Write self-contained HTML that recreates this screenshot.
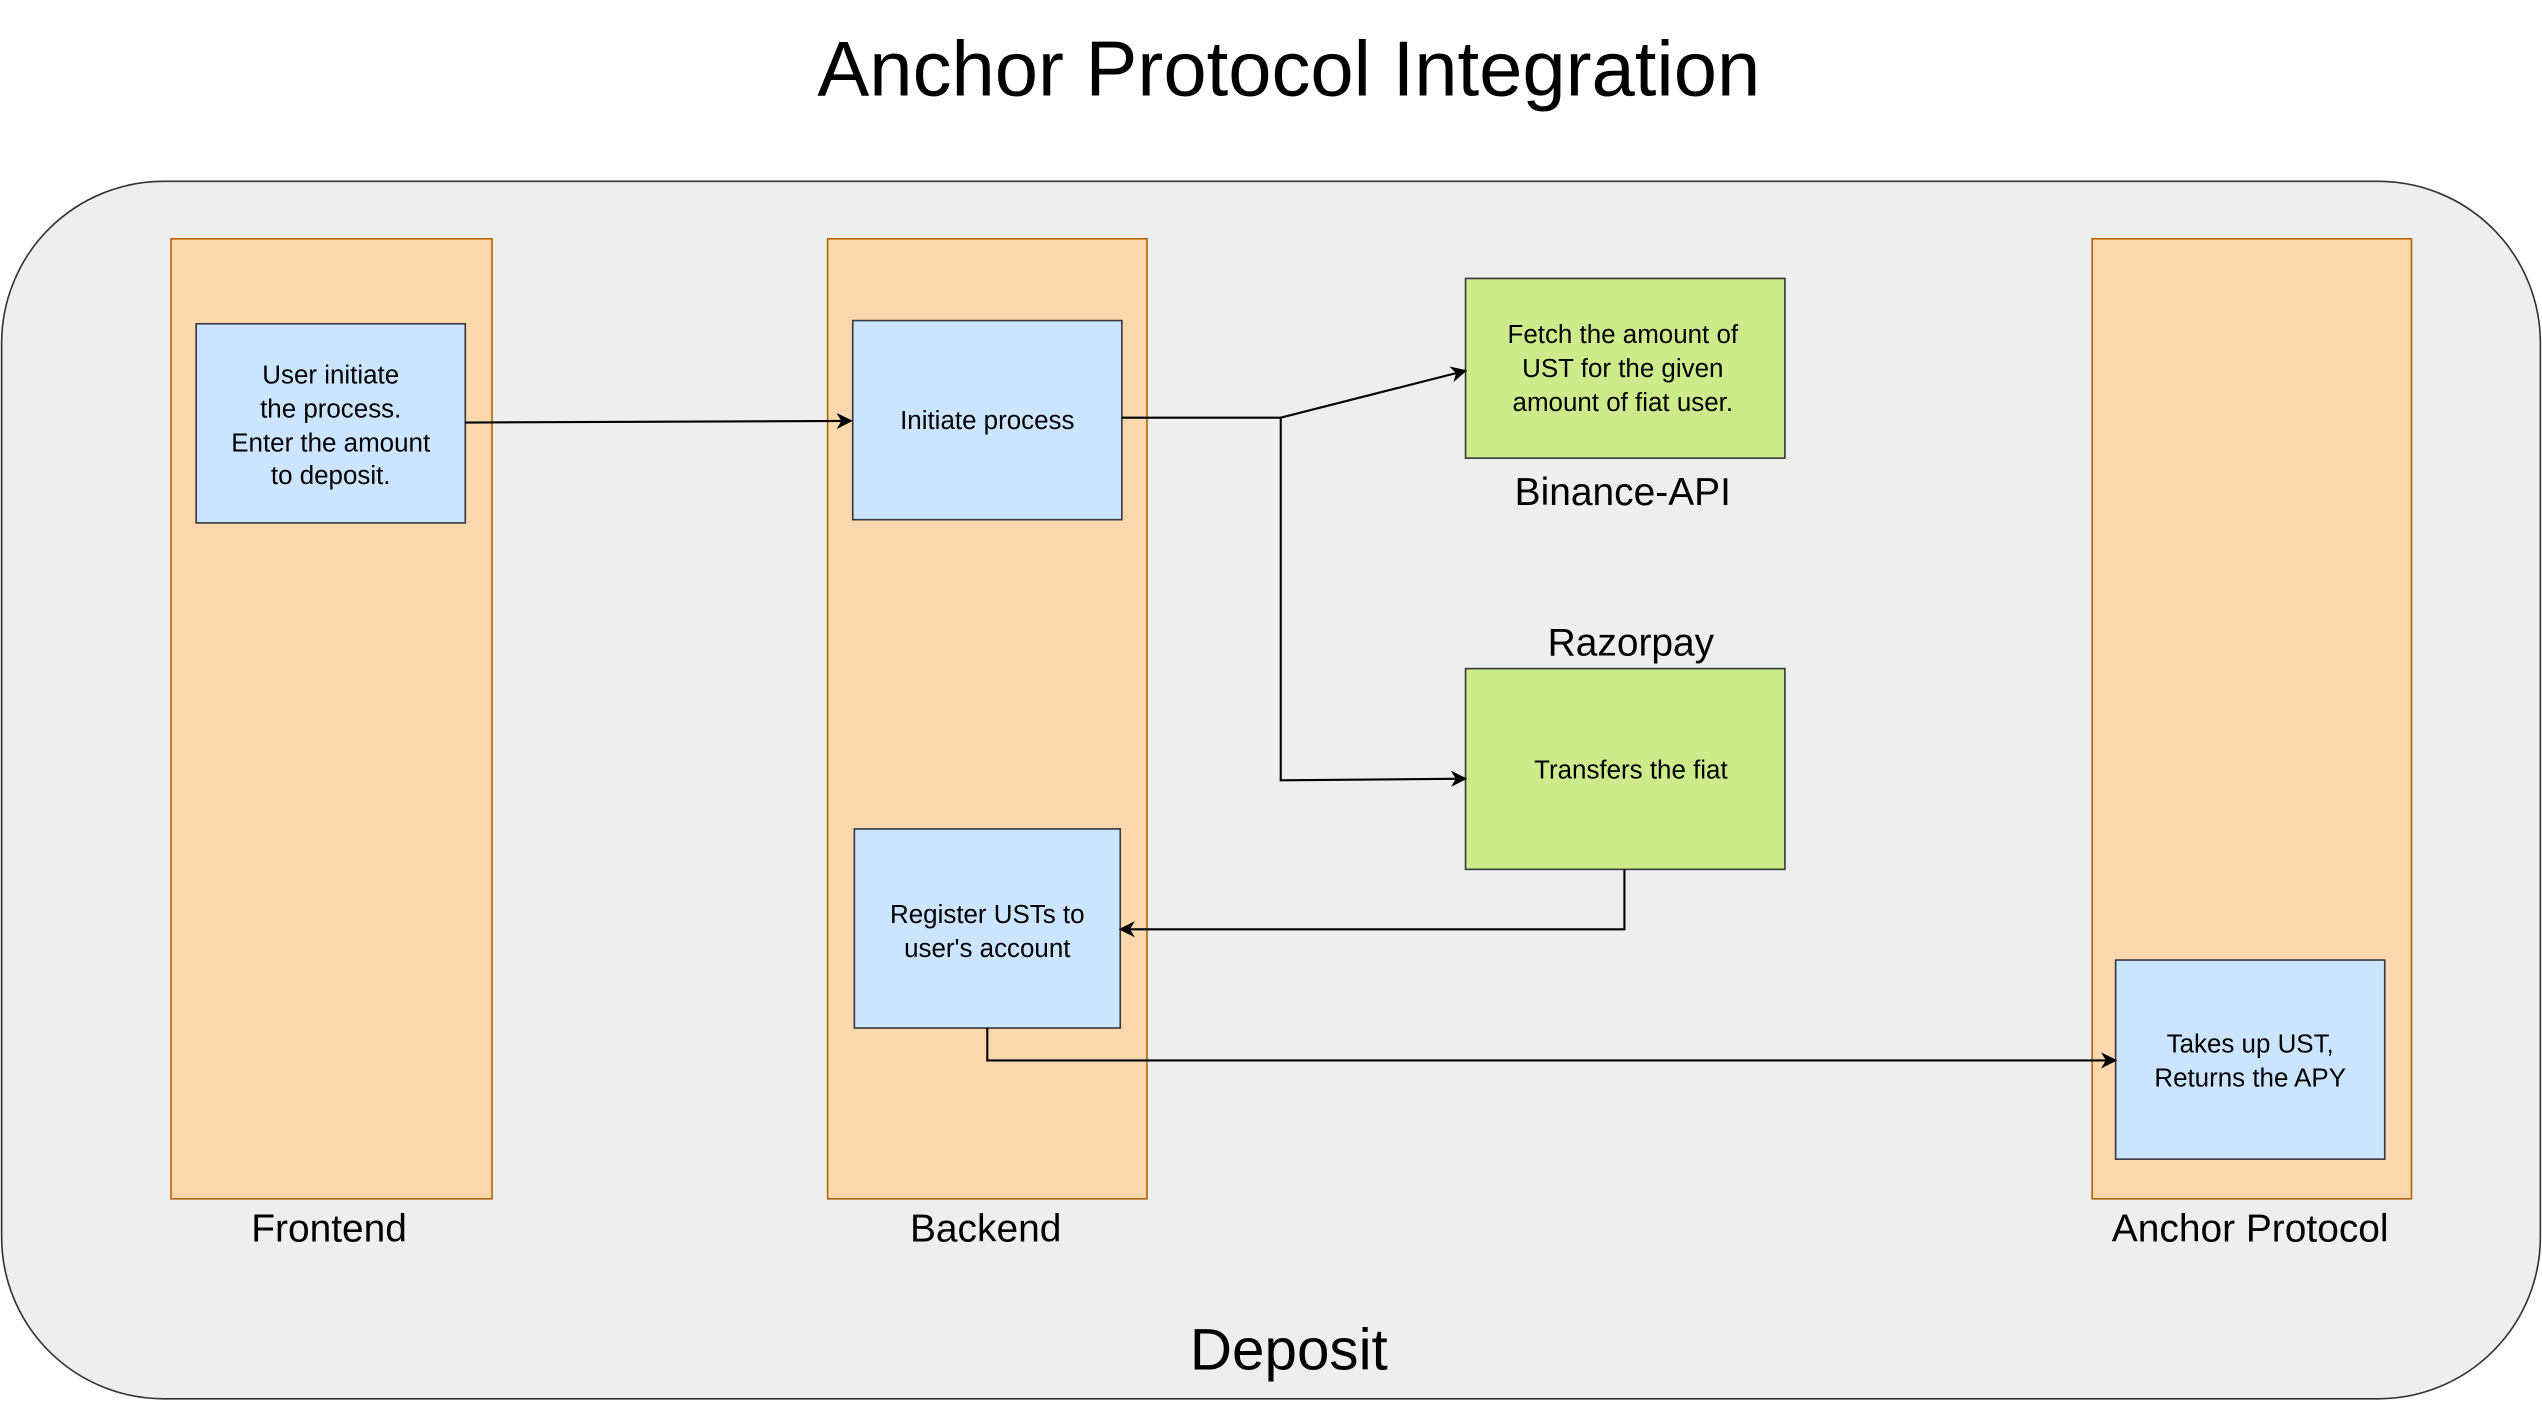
<!DOCTYPE html>
<html><head><meta charset="utf-8"><style>html,body{margin:0;padding:0;background:#fff}svg{display:block}</style></head>
<body>
<svg width="2542" height="1402" viewBox="0 0 1568 866" preserveAspectRatio="none" xmlns="http://www.w3.org/2000/svg" font-family="'Liberation Sans', sans-serif">
<defs><marker id="a" viewBox="0 0 10 10" refX="9" refY="5" markerWidth="10" markerHeight="10" orient="auto" markerUnits="userSpaceOnUse"><path d="M0,0 L10,5 L0,10 L3,5 z" fill="#000"/></marker></defs>
<rect width="1568" height="866" fill="#fff"/>
<text x="795" y="59" font-size="48" text-anchor="middle" fill="#000">Anchor Protocol Integration</text>
<rect x="1" y="112" width="1566" height="752" rx="100" fill="#eeeeee" stroke="#333" stroke-width="1"/>
<g fill="#fad7ac" stroke="#b46504" stroke-width="1">
<rect x="105.5" y="147.5" width="198" height="593"/>
<rect x="510.5" y="147.5" width="197" height="593"/>
<rect x="1290.5" y="147.5" width="197" height="593"/>
</g>
<g font-size="24" text-anchor="middle" fill="#000">
<text x="203" y="767">Frontend</text>
<text x="608" y="767">Backend</text>
<text x="1388" y="767">Anchor Protocol</text>
<text x="1001" y="312">Binance-API</text>
<text x="1006" y="405">Razorpay</text>
</g>
<text x="795" y="846" font-size="36" text-anchor="middle" fill="#000">Deposit</text>
<g fill="#cce5ff" stroke="#36393d" stroke-width="1">
<rect x="121" y="200" width="166" height="123"/>
<rect x="526" y="198" width="166" height="123"/>
<rect x="527" y="512" width="164" height="123"/>
<rect x="1305" y="593" width="166" height="123"/>
</g>
<g fill="#cdeb8b" stroke="#36393d" stroke-width="1">
<rect x="904" y="172" width="197" height="111"/>
<rect x="904" y="413" width="197" height="124"/>
</g>
<g font-size="16" text-anchor="middle" fill="#000">
<text x="204" y="237">User initiate</text>
<text x="204" y="258">the process.</text>
<text x="204" y="279">Enter the amount</text>
<text x="204" y="299">to deposit.</text>
<text x="609" y="265">Initiate process</text>
<text x="609" y="570">Register USTs to</text>
<text x="609" y="591">user's account</text>
<text x="1388" y="650">Takes up UST,</text>
<text x="1388" y="671">Returns the APY</text>
<text x="1001" y="212">Fetch the amount of</text>
<text x="1001" y="233">UST for the given</text>
<text x="1001" y="254">amount of fiat user.</text>
<text x="1006" y="481">Transfers the fiat</text>
</g>
<g fill="none" stroke="#000" stroke-width="1.3">
<path d="M287,261 L525,260" marker-end="url(#a)"/>
<path d="M692,258 L790,258 L904,229" marker-end="url(#a)"/>
<path d="M790,258 L790,482 L904,481" marker-end="url(#a)"/>
<path d="M1002,537 L1002,574 L691,574" marker-end="url(#a)"/>
<path d="M609,635 L609,655 L1305,655" marker-end="url(#a)"/>
</g>
</svg>
</body></html>
